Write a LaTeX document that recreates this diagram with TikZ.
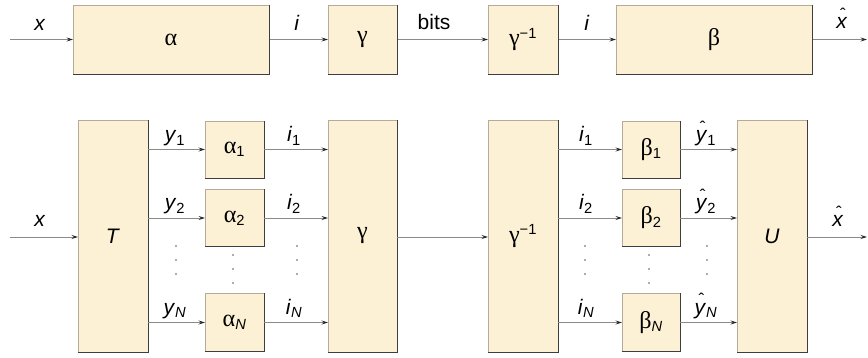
\documentclass[tikz,border=0pt]{standalone}
\usepackage{fontspec}
\setmainfont{Liberation Sans}
\newfontfamily\grk[Scale=1.15]{Liberation Serif}
\usetikzlibrary{arrows.meta}

\definecolor{boxfill}{HTML}{FDF1D5}
\definecolor{boxedge}{HTML}{B4AB9B}
\definecolor{boxdark}{HTML}{3E3E3E}
\definecolor{wire}{HTML}{8E8983}
\definecolor{tipc}{HTML}{262626}

% italic letter with a small circumflex set above it
\newcommand\hatted[1]{\leavevmode\setbox0\hbox{#1}%
  \rlap{\hbox to\wd0{\hss\kern2pt\raisebox{0.42em}{\upshape\fontsize{17}{17}\selectfont\char"02C6}\hss}}\box0}
\newcommand\gk[1]{{\grk #1}}

\tikzset{
  blk/.style={draw=boxedge, fill=boxfill, line width=0.7pt, rectangle,
    inner sep=0pt, outer sep=0pt, font=\fontsize{21}{23}\selectfont},
  wirearrow/.style={draw=wire, line width=0.9pt,
    -{Stealth[length=6.5pt,width=4pt,inset=2.5pt,color=tipc]}},
  lbl/.style={anchor=base, inner sep=0pt, font=\fontsize{21}{23}\selectfont},
  vdot/.style={fill=black!65, draw=none, circle, inner sep=0pt, minimum size=1.6pt},
}

\begin{document}
\begin{tikzpicture}[x=1pt,y=-1pt]
\useasboundingbox (0,0) rectangle (868,358);

% ---- scalar quantizer chain ----
\node[blk, minimum width=196pt, minimum height=69pt] (al)  at (171,39.5) {\gk{α}};
\node[blk, minimum width=69pt,  minimum height=69pt] (ga)  at (362.5,39.5) {\gk{γ}};
\node[blk, minimum width=70pt,  minimum height=69pt] (gi)  at (523,39.5) {\gk{γ}\textsuperscript{−1}};
\node[blk, minimum width=196pt, minimum height=69pt] (be)  at (714,39.5) {\gk{β}};
\coordinate (tin)  at (10,39.5);
\coordinate (tout) at (867,39.5);

\draw[wirearrow] (tin) -- (al.west);
\draw[wirearrow] (al.east) -- (ga.west);
\draw[wirearrow] (ga.east) -- (gi.west);
\draw[wirearrow] (gi.east) -- (be.west);
\draw[wirearrow] (be.east) -- (tout);

\node[lbl] (lx)  at (40,31)  {\textit{x}};
\node[lbl] (li)  at (297,31) {\textit{i}};
\node[lbl] (lb)  at (434,30) {bits};
\node[lbl] (li2) at (587,31) {\textit{i}};
\node[lbl] (lxh) at (842,29) {\hatted{\textit{x}}};

% ---- transform coder ----
\node[blk, minimum width=70pt, minimum height=232pt] (T)  at (113,236) {\textit{T}};
\node[blk, minimum width=59pt, minimum height=57pt]  (a1) at (234.5,149.5) {\gk{α}\textsubscript{1}};
\node[blk, minimum width=59pt, minimum height=57pt]  (a2) at (234.5,218) {\gk{α}\textsubscript{2}};
\node[blk, minimum width=59pt, minimum height=58pt]  (aN) at (234.5,322.5) {\gk{α}\textsubscript{\textit{N}}};
\node[blk, minimum width=69pt, minimum height=232pt] (G)  at (362.5,236) {\gk{γ}};
\node[blk, minimum width=70pt, minimum height=232pt] (Gi) at (523,236) {\gk{γ}\textsuperscript{−1}};
\node[blk, minimum width=58pt, minimum height=57pt]  (b1) at (651,149.5) {\gk{β}\textsubscript{1}};
\node[blk, minimum width=58pt, minimum height=57pt]  (b2) at (651,218) {\gk{β}\textsubscript{2}};
\node[blk, minimum width=58pt, minimum height=58pt]  (bN) at (651,322.5) {\gk{β}\textsubscript{\textit{N}}};
\node[blk, minimum width=70pt, minimum height=232pt] (U)  at (772,236) {\textit{U}};
\coordinate (bin)  at (10,237);
\coordinate (bout) at (867,237);

% darker right and bottom edges of every block
\foreach \n in {al,ga,gi,be,T,a1,a2,aN,G,Gi,b1,b2,bN,U}
  \draw[boxdark, line width=0.8pt] (\n.north east) -- (\n.south east) -- (\n.south west);

\draw[wirearrow] (bin) -- (bin -| T.west);
\draw[wirearrow] (G.east |- bin) -- (Gi.west |- bin);
\draw[wirearrow] (U.east |- bin) -- (bout);

\foreach \k in {1,2,N} {
  \draw[wirearrow] (T.east |- a\k.west) -- (a\k.west);
  \draw[wirearrow] (a\k.east) -- (G.west |- a\k.east);
  \draw[wirearrow] (Gi.east |- b\k.west) -- (b\k.west);
  \draw[wirearrow] (b\k.east) -- (U.west |- b\k.east);
}

\node[lbl] (lbx)  at (40,227)  {\textit{x}};
\node[lbl] (lbxh) at (838,227) {\hatted{\textit{x}}};

\node[lbl] (ly1) at (175,142) {\textit{y}\textsubscript{1}};
\node[lbl] (ly2) at (175,210) {\textit{y}\textsubscript{2}};
\node[lbl] (lyN) at (175,314) {\textit{y}\textsubscript{\textit{N}}};
\node[lbl] (li1) at (294,142) {\textit{i}\textsubscript{1}};
\node[lbl] (li2b) at (294,210) {\textit{i}\textsubscript{2}};
\node[lbl] (liN) at (294,314) {\textit{i}\textsubscript{\textit{N}}};
\node[lbl] (ri1) at (586,142) {\textit{i}\textsubscript{1}};
\node[lbl] (ri2) at (586,210) {\textit{i}\textsubscript{2}};
\node[lbl] (riN) at (586,314) {\textit{i}\textsubscript{\textit{N}}};
\node[lbl] (yh1) at (706,142) {\hatted{\textit{y}}\textsubscript{1}};
\node[lbl] (yh2) at (706,210) {\hatted{\textit{y}}\textsubscript{2}};
\node[lbl] (yhN) at (706,314) {\hatted{\textit{y}}\textsubscript{\textit{N}}};

% vertical ellipses between the second and last branch
\foreach \x in {176,297,585,707}
  \foreach \y in {246,260,274}
    \node[vdot] at (\x,\y) {};
\foreach \x in {233,649}
  \foreach \y in {255,269,283}
    \node[vdot] at (\x,\y) {};
\end{tikzpicture}
\end{document}
